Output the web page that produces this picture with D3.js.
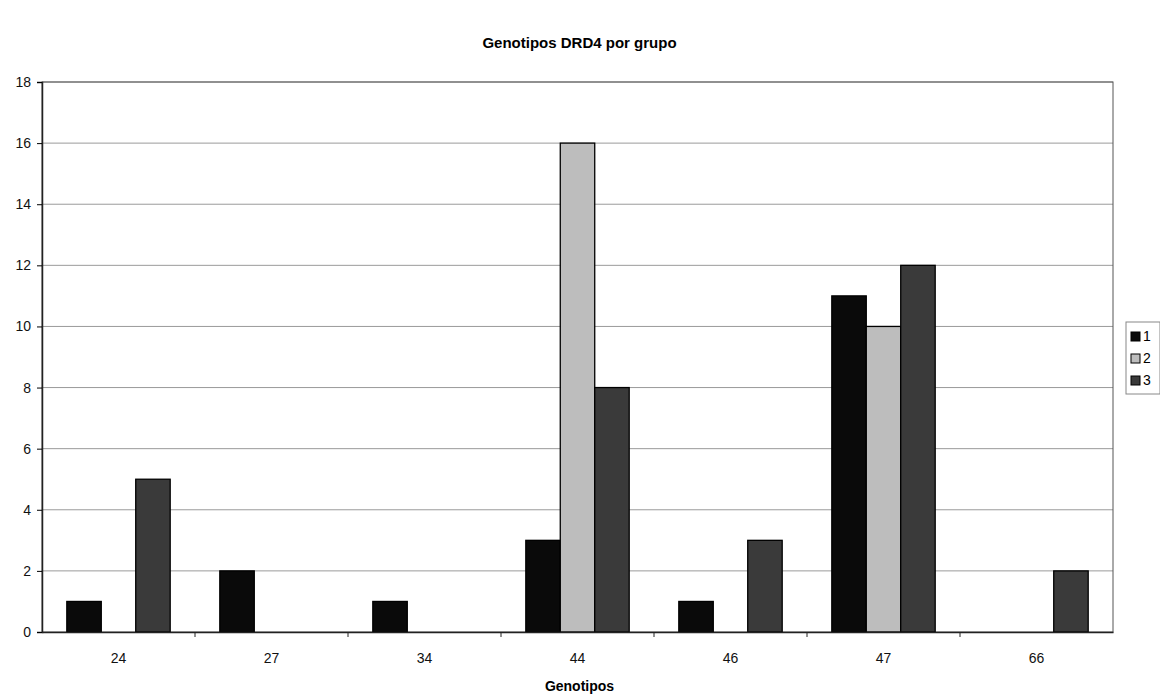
<!DOCTYPE html>
<html><head><meta charset="utf-8">
<script src="https://cdn.jsdelivr.net/npm/d3@7"></script>
<style>body{margin:0;background:#fff}svg{display:block}text{font-family:"Liberation Sans",Arial,sans-serif}</style>
</head><body><svg id="c" width="1160" height="695"></svg>
<script>
const categories = ["24","27","34","44","46","47","66"];
const seriesNames = ["1","2","3"];
const series1 = [1,2,1,3,1,11,0];
const series2 = [0,0,0,16,0,10,0];
const series3 = [5,0,0,8,3,12,2];
const yTicks = [0,2,4,6,8,10,12,14,16,18];
const colors = ["#0a0a0a","#bdbdbd","#3a3a3a"];

const svg = d3.select("#c");
const L=42,R=1113,T=82,B=632;
const x = d3.scaleBand().domain(categories).range([L,R]).paddingInner(0).paddingOuter(0);
const xs = d3.scaleBand().domain(seriesNames).range([0,x.bandwidth()]).paddingInner(0).paddingOuter(0.72);
const y = d3.scaleLinear().domain([0,18]).range([B,T]);

// gridlines
svg.append("g").selectAll("line").data(yTicks.filter(d=>d>0)).join("line")
  .attr("x1",L).attr("x2",R).attr("y1",d=>y(d)).attr("y2",d=>y(d))
  .attr("stroke","#9a9a9a").attr("stroke-width",1);
// plot border
svg.append("rect").attr("x",L).attr("y",T).attr("width",R-L).attr("height",B-T)
  .attr("fill","none").attr("stroke","#555").attr("stroke-width",1);

// bars
const data = [series1,series2,series3];
const g = svg.append("g");
categories.forEach((c,i)=>{
  seriesNames.forEach((s,j)=>{
    const v = data[j][i];
    if(v<=0) return;
    g.append("rect").attr("x",x(c)+xs(s)).attr("y",y(v)).attr("width",xs.bandwidth()).attr("height",y(0)-y(v))
      .attr("fill",colors[j]).attr("stroke","#000").attr("stroke-width",1.3);
  });
});

// y axis
const ya = svg.append("g").attr("transform",`translate(${L},0)`)
  .call(d3.axisLeft(y).tickValues(yTicks).tickSize(5).tickPadding(6));
ya.select(".domain").attr("stroke","#222").attr("stroke-width",1.5);
ya.selectAll("text").attr("font-size",14).attr("fill","#111");
// x axis
const xa = svg.append("g").attr("transform",`translate(0,${B})`)
  .call(d3.axisBottom(x).tickSize(0).tickPadding(21));
xa.select(".domain").attr("stroke","#222").attr("stroke-width",1.5);
xa.selectAll("text").attr("font-size",14).attr("fill","#111");
svg.append("g").selectAll("line").data(categories.slice(1)).join("line")
  .attr("x1",d=>x(d)).attr("x2",d=>x(d)).attr("y1",B).attr("y2",B+5).attr("stroke","#222");

// title
svg.append("text").attr("x",(L+R)/2+2).attr("y",48).attr("text-anchor","middle")
  .attr("font-size",15).attr("font-weight","bold").text("Genotipos DRD4 por grupo");
svg.append("text").attr("x",(L+R)/2+2).attr("y",691).attr("text-anchor","middle")
  .attr("font-size",14).attr("font-weight","bold").text("Genotipos");

// legend
const lg = svg.append("g").attr("transform","translate(1126,322)");
lg.append("rect").attr("x",0).attr("y",0).attr("width",34).attr("height",72).attr("fill","#fff").attr("stroke","#888");
seriesNames.forEach((s,j)=>{
  lg.append("rect").attr("x",5).attr("y",10+j*22).attr("width",9).attr("height",9).attr("fill",colors[j]).attr("stroke","#000");
  lg.append("text").attr("x",17).attr("y",19+j*22).attr("font-size",14).text(s);
});
</script></body></html>
